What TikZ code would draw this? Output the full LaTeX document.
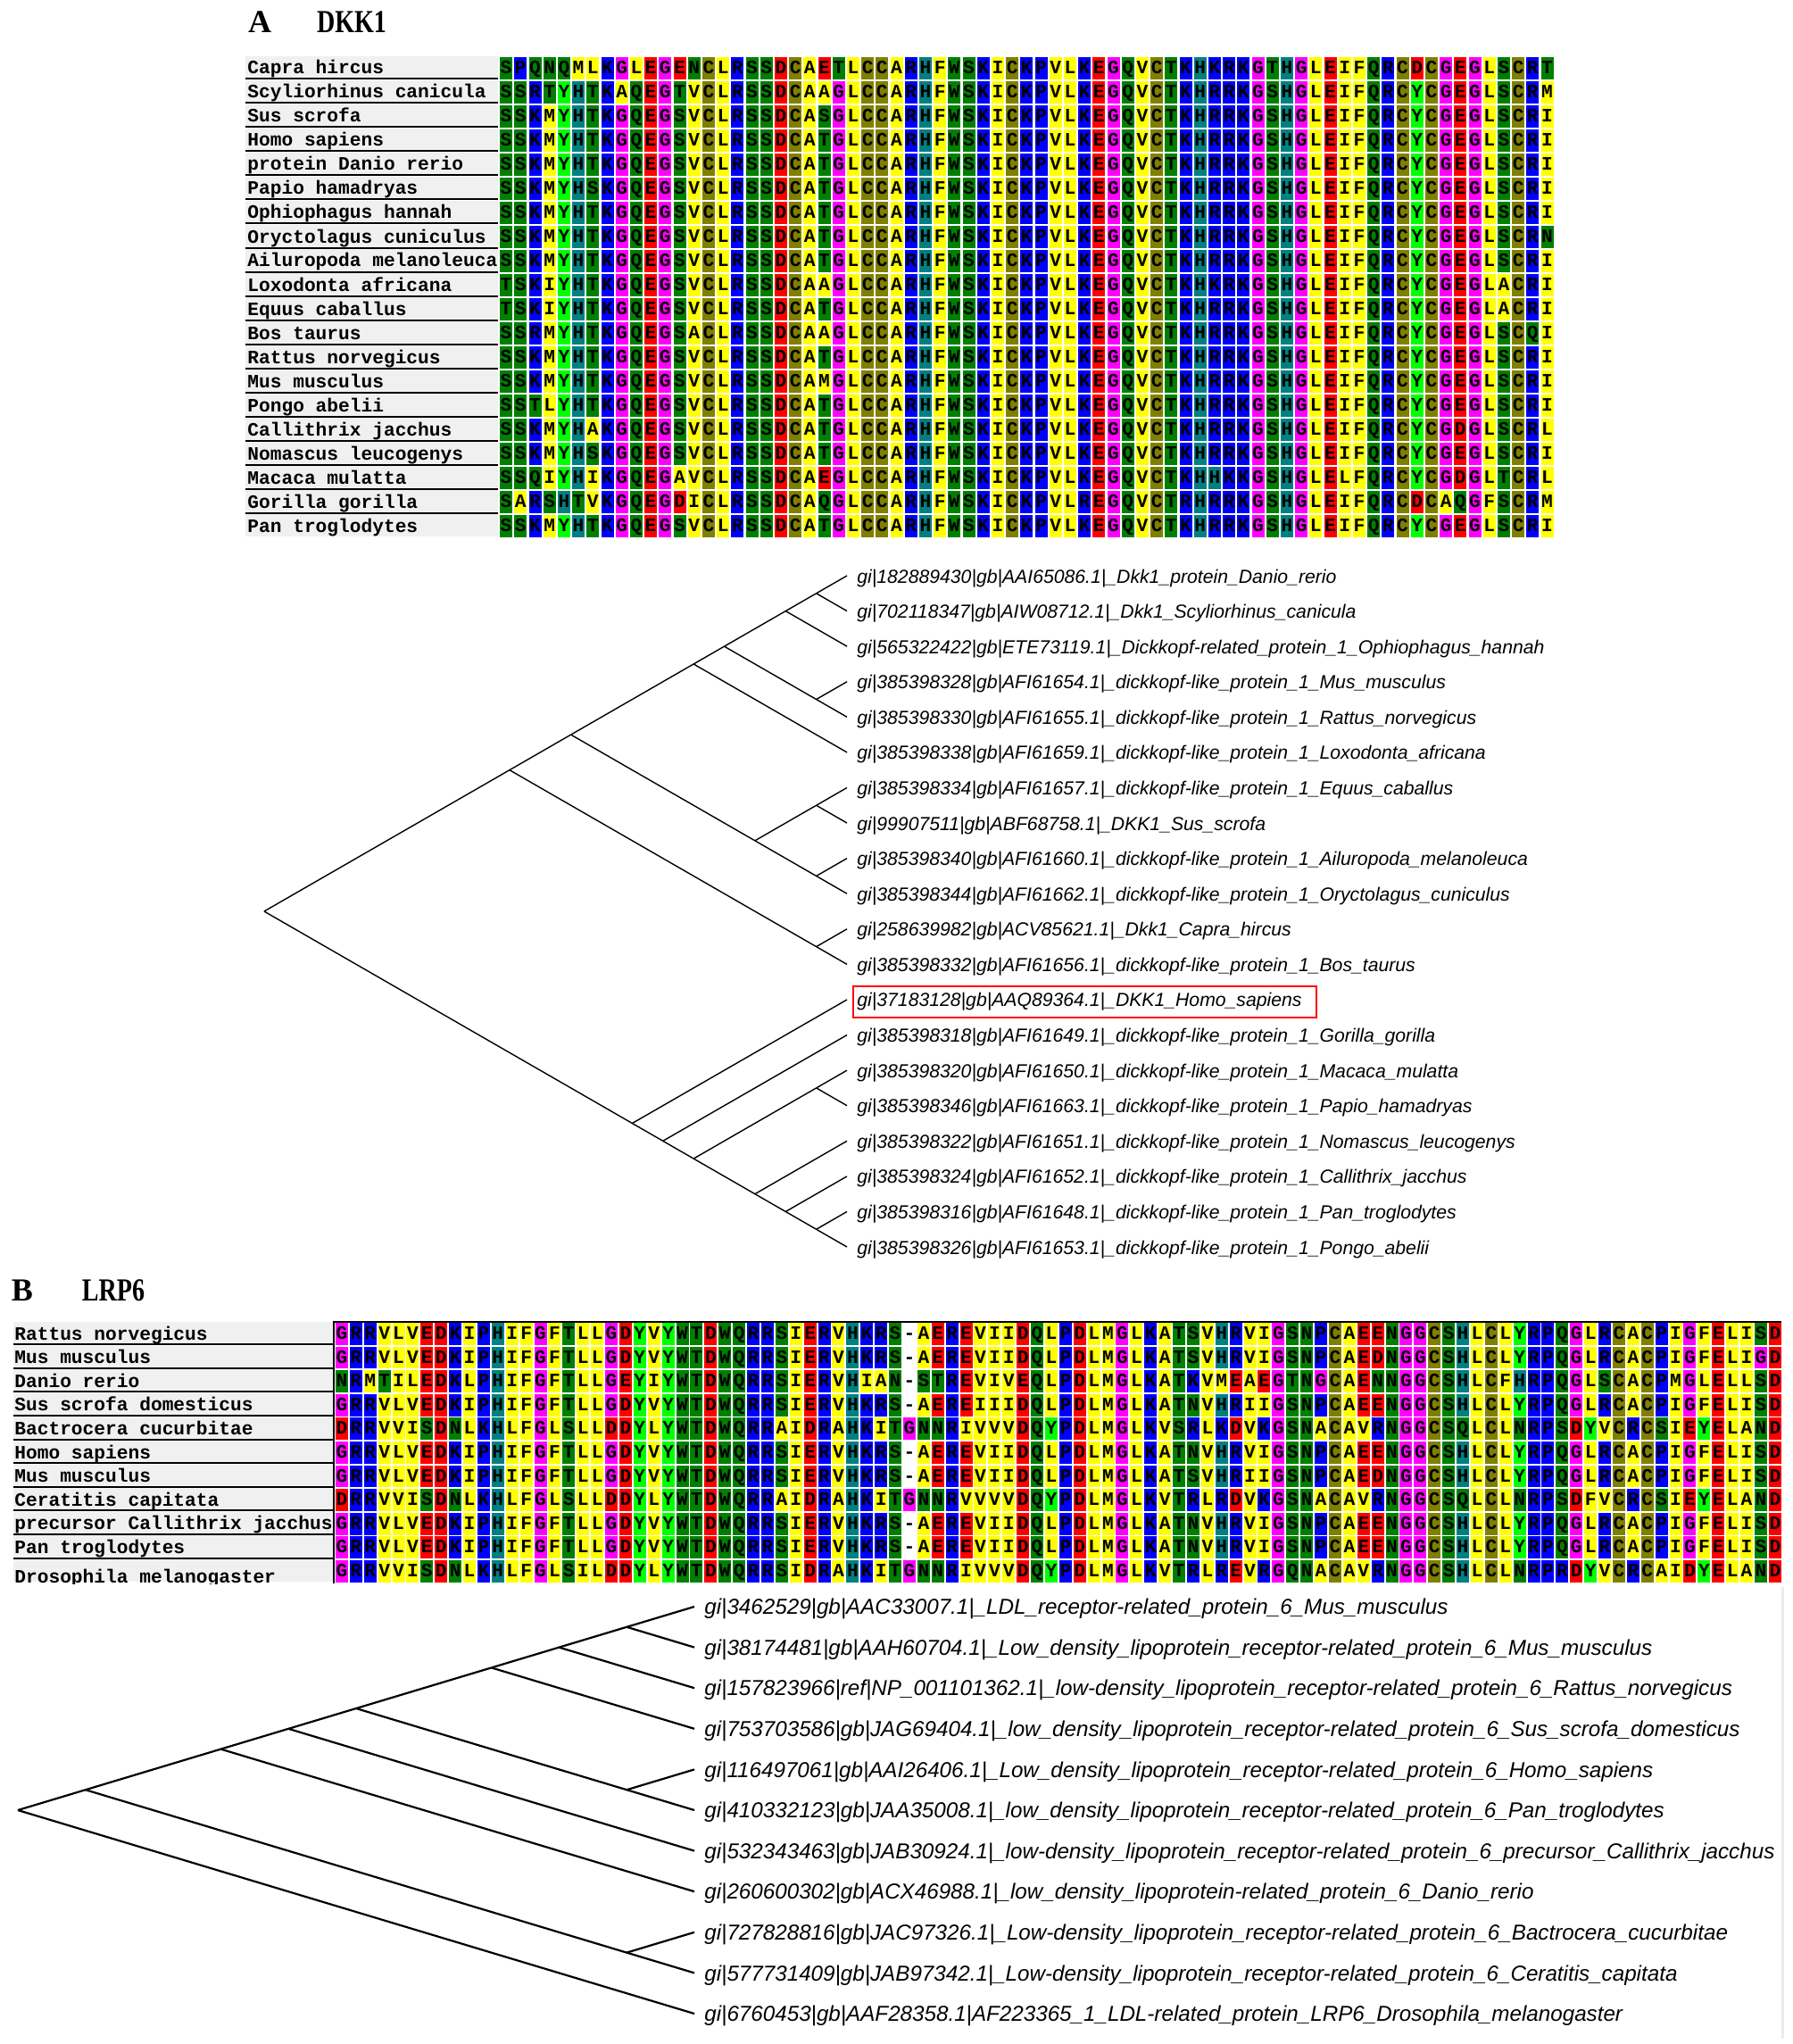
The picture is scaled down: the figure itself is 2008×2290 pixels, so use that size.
\documentclass[tikz,border=0pt]{standalone}
\usepackage{fontspec}
\setmainfont{Liberation Serif}
\setsansfont{Liberation Sans}
\setmonofont{Liberation Mono}
\usetikzlibrary{positioning}

\definecolor{hydro}{RGB}{255,255,0}
\definecolor{polar}{RGB}{0,128,0}
\definecolor{basic}{RGB}{0,0,255}
\definecolor{histi}{RGB}{0,128,128}
\definecolor{aromy}{RGB}{0,255,0}
\definecolor{glyc}{RGB}{255,0,255}
\definecolor{acid}{RGB}{255,0,0}
\definecolor{cyst}{RGB}{128,128,0}
\colorlet{aaA}{hydro}\colorlet{aaV}{hydro}\colorlet{aaL}{hydro}
\colorlet{aaI}{hydro}\colorlet{aaM}{hydro}\colorlet{aaF}{hydro}
\colorlet{aaS}{polar}\colorlet{aaT}{polar}\colorlet{aaN}{polar}
\colorlet{aaQ}{polar}\colorlet{aaW}{polar}
\colorlet{aaK}{basic}\colorlet{aaR}{basic}\colorlet{aaP}{basic}
\colorlet{aaH}{histi}\colorlet{aaY}{aromy}\colorlet{aaG}{glyc}
\colorlet{aaD}{acid}\colorlet{aaE}{acid}\colorlet{aaC}{cyst}

\newcount\alncol
\newcommand\alnrow[3]{\alncol=0 \def\alnpre{#1}\def\alnrowno{#2}\expandafter\alnstep#3\relax}
\def\alnstep#1{\ifx\relax#1\else\alncell{#1}\advance\alncol by 1 \expandafter\alnstep\fi}
\newcommand\alncell[1]{%
  \if-#1\def\alnfill{white}\else\def\alnfill{aa#1}\fi
  \node[res, fill=\alnfill] (\alnpre\alnrowno-\the\alncol)
    at ({\alnx+(\the\alncol+0.5)*\alncw}, {\alny+(\alnrowno-0.5)*\alnrh}) {#1};}
\newcommand\cladeA[3]{\coordinate (#1) at ({949-(#3-#2)*34.37}, {645+((#2+#3)/2-1)*39.58});}
\newcommand\cladeB[3]{\coordinate (#1) at ({778-(#3-#2)*75.8}, {1800+((#2+#3)/2-1)*45.6});}

\begin{document}
\begin{tikzpicture}[x=0.5pt, y=-0.5pt,
  res/.style={inner sep=0pt, minimum width=7pt, minimum height=12.4pt, text height=6.2pt, text depth=0pt, font=\fontsize{10.6}{12}\ttfamily\bfseries},
  spname/.style={anchor=base west, inner sep=0pt, font=\fontsize{10.6}{12}\ttfamily\bfseries},
  namebar/.style={fill=black!6},
  rowline/.style={line width=1pt},
  leafA/.style={inner xsep=1pt, inner ysep=0pt, text height=8pt, text depth=2.4pt, yshift=-1.2pt, font=\fontsize{10.6}{12}\sffamily\itshape},
  leafB/.style={inner xsep=1pt, inner ysep=0pt, text height=9pt, text depth=2.8pt, yshift=-1.2pt, font=\fontsize{12.1}{14}\sffamily\itshape},
  branchA/.style={line width=0.7pt},
  branchB/.style={line width=1.1pt},
  redbox/.style={draw=red, line width=1pt},
  panel/.style={inner sep=0pt, font=\fontsize{18}{18}\selectfont\bfseries}]
\useasboundingbox (0,0) rectangle (2008,2290);

% panel A
\node[panel] (pA) at (291,25) {A};
\node[panel] (gA) at (394,25) {\scalebox{0.78}[1]{DKK1}};
\foreach \r in {1,...,20} \fill[namebar] (275,{63+(\r-1)*27}) rectangle (558,{63+\r*27-2});
\foreach \r in {1,...,19} \draw[rowline] (275,{63+\r*27-1.5}) -- (558,{63+\r*27-1.5});
\begin{scope}
\clip (270,63) rectangle (559,604);
\foreach \n [count=\r] in {Capra hircus, Scyliorhinus canicula, Sus scrofa, Homo sapiens,
  protein Danio rerio, Papio hamadryas, Ophiophagus hannah, Oryctolagus cuniculus,
  Ailuropoda melanoleuca, Loxodonta africana, Equus caballus, Bos taurus,
  Rattus norvegicus, Mus musculus, Pongo abelii, Callithrix jacchus,
  Nomascus leucogenys, Macaca mulatta, Gorilla gorilla, Pan troglodytes}
  \node[spname] (nA\r) at (277,{63+(\r-1)*27+20}) {\n};
\end{scope}
\def\alnx{559}\def\alncw{16.2}\def\alny{63}\def\alnrh{27}
\foreach \s [count=\r] in {
SPQNQMLKGLEGENCLRSSDCAETLCCARHFWSKICKPVLKEGQVCTKHKRKGTHGLEIFQRCDCGEGLSCRT,
SSRTYHTKAQEGTVCLRSSDCAAGLCCARHFWSKICKPVLKEGQVCTKHRRKGSHGLEIFQRCYCGEGLSCRM,
SSKMYHTKGQEGSVCLRSSDCASGLCCARHFWSKICKPVLKEGQVCTKHRRKGSHGLEIFQRCYCGEGLSCRI,
SSKMYHTKGQEGSVCLRSSDCATGLCCARHFWSKICKPVLKEGQVCTKHRRKGSHGLEIFQRCYCGEGLSCRI,
SSKMYHTKGQEGSVCLRSSDCATGLCCARHFWSKICKPVLKEGQVCTKHRRKGSHGLEIFQRCYCGEGLSCRI,
SSKMYHSKGQEGSVCLRSSDCATGLCCARHFWSKICKPVLKEGQVCTKHRRKGSHGLEIFQRCYCGEGLSCRI,
SSKMYHTKGQEGSVCLRSSDCATGLCCARHFWSKICKPVLKEGQVCTKHRRKGSHGLEIFQRCYCGEGLSCRI,
SSKMYHTKGQEGSVCLRSSDCATGLCCARHFWSKICKPVLKEGQVCTKHRRKGSHGLEIFQRCYCGEGLSCRN,
SSKMYHTKGQEGSVCLRSSDCATGLCCARHFWSKICKPVLKEGQVCTKHRRKGSHGLEIFQRCYCGEGLSCRI,
TSKIYHTKGQEGSVCLRSSDCAAGLCCARHFWSKICKPVLKEGQVCTKHKRKGSHGLEIFQRCYCGEGLACRI,
TSKIYHTKGQEGSVCLRSSDCATGLCCARHFWSKICKPVLKEGQVCTKHRRKGSHGLEIFQRCYCGEGLACRI,
SSRMYHTKGQEGSACLRSSDCAAGLCCARHFWSKICKPVLKEGQVCTKHRRKGSHGLEIFQRCYCGEGLSCQI,
SSKMYHTKGQEGSVCLRSSDCATGLCCARHFWSKICKPVLKEGQVCTKHRRKGSHGLEIFQRCYCGEGLSCRI,
SSKMYHTKGQEGSVCLRSSDCAMGLCCARHFWSKICKPVLKEGQVCTKHRRKGSHGLEIFQRCYCGEGLSCRI,
SSTLYHTKGQEGSVCLRSSDCATGLCCARHFWSKICKPVLKEGQVCTKHRRKGSHGLEIFQRCYCGEGLSCRI,
SSKMYHAKGQEGSVCLRSSDCATGLCCARHFWSKICKPVLKEGQVCTKHRRKGSHGLEIFQRCYCGDGLSCRL,
SSKMYHSKGQEGSVCLRSSDCATGLCCARHFWSKICKPVLKEGQVCTKHRRKGSHGLEIFQRCYCGEGLSCRI,
SSQIYHIKGQEGAVCLRSSDCAEGLCCARHFWSKICKPVLKEGQVCTKHHKKGSHGLELFQRCYCGDGLTCRL,
SARSHTVKGQEGDICLRSSDCAQGLCCARHFWSKICKPVLREGQVCTRHRRKGSHGLEIFQRCDCAQGFSCRM,
SSKMYHTKGQEGSVCLRSSDCATGLCCARHFWSKICKPVLKEGQVCTKHRRKGSHGLEIFQRCYCGEGLSCRI}
  {\alnrow{sA}{\r}{\s}}

% tree A
\foreach \g [count=\i] in {
  gi|182889430|gb|AAI65086.1|\_Dkk1\_protein\_Danio\_rerio,
  gi|702118347|gb|AIW08712.1|\_Dkk1\_Scyliorhinus\_canicula,
  gi|565322422|gb|ETE73119.1|\_Dickkopf-related\_protein\_1\_Ophiophagus\_hannah,
  gi|385398328|gb|AFI61654.1|\_dickkopf-like\_protein\_1\_Mus\_musculus,
  gi|385398330|gb|AFI61655.1|\_dickkopf-like\_protein\_1\_Rattus\_norvegicus,
  gi|385398338|gb|AFI61659.1|\_dickkopf-like\_protein\_1\_Loxodonta\_africana,
  gi|385398334|gb|AFI61657.1|\_dickkopf-like\_protein\_1\_Equus\_caballus,
  gi|99907511|gb|ABF68758.1|\_DKK1\_Sus\_scrofa,
  gi|385398340|gb|AFI61660.1|\_dickkopf-like\_protein\_1\_Ailuropoda\_melanoleuca,
  gi|385398344|gb|AFI61662.1|\_dickkopf-like\_protein\_1\_Oryctolagus\_cuniculus,
  gi|258639982|gb|ACV85621.1|\_Dkk1\_Capra\_hircus,
  gi|385398332|gb|AFI61656.1|\_dickkopf-like\_protein\_1\_Bos\_taurus,
  gi|37183128|gb|AAQ89364.1|\_DKK1\_Homo\_sapiens,
  gi|385398318|gb|AFI61649.1|\_dickkopf-like\_protein\_1\_Gorilla\_gorilla,
  gi|385398320|gb|AFI61650.1|\_dickkopf-like\_protein\_1\_Macaca\_mulatta,
  gi|385398346|gb|AFI61663.1|\_dickkopf-like\_protein\_1\_Papio\_hamadryas,
  gi|385398322|gb|AFI61651.1|\_dickkopf-like\_protein\_1\_Nomascus\_leucogenys,
  gi|385398324|gb|AFI61652.1|\_dickkopf-like\_protein\_1\_Callithrix\_jacchus,
  gi|385398316|gb|AFI61648.1|\_dickkopf-like\_protein\_1\_Pan\_troglodytes,
  gi|385398326|gb|AFI61653.1|\_dickkopf-like\_protein\_1\_Pongo\_abelii} {
  \coordinate (tA\i) at (949,{645+(\i-1)*39.58});
  \node[leafA, right=4.5pt of tA\i] (lA\i) {\g};
}
\cladeA{rootA}{1}{20} \cladeA{uA1}{1}{12} \cladeA{uA2}{1}{10} \cladeA{uA3}{1}{6}
\cladeA{uA4}{1}{5} \cladeA{uA5}{1}{3} \cladeA{uA6}{1}{2} \cladeA{uA7}{4}{5}
\cladeA{uA8}{7}{10} \cladeA{uA9}{7}{8} \cladeA{uA10}{9}{10} \cladeA{uA11}{11}{12}
\cladeA{dA1}{13}{20} \cladeA{dA2}{14}{20} \cladeA{dA3}{15}{20} \cladeA{dA4}{15}{16}
\cladeA{dA5}{17}{20} \cladeA{dA6}{18}{20} \cladeA{dA7}{19}{20}
\foreach \p/\c in {rootA/uA1, rootA/dA1, uA1/uA2, uA1/uA11, uA2/uA3, uA2/uA8,
  uA3/uA4, uA3/tA6, uA4/uA5, uA4/uA7, uA5/uA6, uA5/tA3, uA6/tA1, uA6/tA2,
  uA7/tA4, uA7/tA5, uA8/uA9, uA8/uA10, uA9/tA7, uA9/tA8, uA10/tA9, uA10/tA10,
  uA11/tA11, uA11/tA12, dA1/tA13, dA1/dA2, dA2/tA14, dA2/dA3, dA3/dA4, dA3/dA5,
  dA4/tA15, dA4/tA16, dA5/tA17, dA5/dA6, dA6/tA18, dA6/dA7, dA7/tA19, dA7/tA20}
  \draw[branchA] (\p) -- (\c);
\draw[redbox] ([xshift=-1pt, yshift=3.5pt]lA13.north west) rectangle ([xshift=7pt, yshift=-3.5pt]lA13.south east);

% panel B
\node[panel] (pB) at (25,1446) {B};
\node[panel] (gB) at (127,1446) {\scalebox{0.78}[1]{LRP6}};
\foreach \r in {1,...,11} \fill[namebar] (15,{1481+(\r-1)*26.6}) rectangle (373,{1481+\r*26.6-2});
\foreach \r in {1,...,10} \draw[rowline] (15,{1481+\r*26.6-1.5}) -- (373,{1481+\r*26.6-1.5});
\begin{scope}
\clip (10,1481) rectangle (374,1774);
\foreach \n [count=\r] in {Rattus norvegicus, Mus musculus, Danio rerio, Sus scrofa domesticus,
  Bactrocera cucurbitae, Homo sapiens, Mus musculus, Ceratitis capitata,
  precursor Callithrix jacchus, Pan troglodytes}
  \node[spname] (nB\r) at (16,{1481+(\r-1)*26.6+20}) {\n};
\node[spname] (nB11) at (16,{1481+10*26.6+26}) {Drosophila melanogaster};
\end{scope}
\def\alnx{375}\def\alncw{15.9}\def\alny{1481}\def\alnrh{26.6}
\foreach \s [count=\r] in {
GRRVLVEDKIPHIFGFTLLGDYVYWTDWQRRSIERVHKRS-AEREVIIDQLPDLMGLKATSVHRVIGSNPCAEENGGCSHLCLYRPQGLRCACPIGFELISD,
GRRVLVEDKIPHIFGFTLLGDYVYWTDWQRRSIERVHKRS-AEREVIIDQLPDLMGLKATSVHRVIGSNPCAEDNGGCSHLCLYRPQGLRCACPIGFELIGD,
NRMTILEDKLPHIFGFTLLGEYIYWTDWQRRSIERVHIAN-STREVIVEQLPDLMGLKATKVMEAEGTNGCAENNGGCSHLCFHRPQGLSCACPMGLELLSD,
GRRVLVEDKIPHIFGFTLLGDYVYWTDWQRRSIERVHKRS-AEREIIIDQLPDLMGLKATNVHRIIGSNPCAEENGGCSHLCLYRPQGLRCACPIGFELISD,
DRRVVISDNLKHLFGLSLLDDYLYWTDWQRRAIDRAHKITGNNRIVVVDQYPDLMGLKVSRLKDVKGSNACAVRNGGCSQLCLNRPSDYVCRCSIEYELAND,
GRRVLVEDKIPHIFGFTLLGDYVYWTDWQRRSIERVHKRS-AEREVIIDQLPDLMGLKATNVHRVIGSNPCAEENGGCSHLCLYRPQGLRCACPIGFELISD,
GRRVLVEDKIPHIFGFTLLGDYVYWTDWQRRSIERVHKRS-AEREVIIDQLPDLMGLKATSVHRIIGSNPCAEDNGGCSHLCLYRPQGLRCACPIGFELISD,
DRRVVISDNLKHLFGLSLLDDYLYWTDWQRRAIDRAHKITGNNRVVVVDQYPDLMGLKVTRLRDVKGSNACAVRNGGCSQLCLNRPSDFVCRCSIEYELAND,
GRRVLVEDKIPHIFGFTLLGDYVYWTDWQRRSIERVHKRS-AEREVIIDQLPDLMGLKATNVHRVIGSNPCAEENGGCSHLCLYRPQGLRCACPIGFELISD,
GRRVLVEDKIPHIFGFTLLGDYVYWTDWQRRSIERVHKRS-AEREVIIDQLPDLMGLKATNVHRVIGSNPCAEENGGCSHLCLYRPQGLRCACPIGFELISD,
GRRVVISDNLKHLFGLSILDDYLYWTDWQRRSIDRAHKITGNNRIVVVDQYPDLMGLKVTRLREVRGQNACAVRNGGCSHLCLNRPRDYVCRCAIDYELAND}
  {\alnrow{sB}{\r}{\s}}
\draw[line width=1.2pt] (374,1774) -- (374,1481) -- (1996,1481);
\draw[black!8, line width=1.5pt] (1997,1778) -- (1997,2284);

% tree B
\foreach \g [count=\i] in {
  gi|3462529|gb|AAC33007.1|\_LDL\_receptor-related\_protein\_6\_Mus\_musculus,
  gi|38174481|gb|AAH60704.1|\_Low\_density\_lipoprotein\_receptor-related\_protein\_6\_Mus\_musculus,
  gi|157823966|ref|NP\_001101362.1|\_low-density\_lipoprotein\_receptor-related\_protein\_6\_Rattus\_norvegicus,
  gi|753703586|gb|JAG69404.1|\_low\_density\_lipoprotein\_receptor-related\_protein\_6\_Sus\_scrofa\_domesticus,
  gi|116497061|gb|AAI26406.1|\_Low\_density\_lipoprotein\_receptor-related\_protein\_6\_Homo\_sapiens,
  gi|410332123|gb|JAA35008.1|\_low\_density\_lipoprotein\_receptor-related\_protein\_6\_Pan\_troglodytes,
  gi|532343463|gb|JAB30924.1|\_low-density\_lipoprotein\_receptor-related\_protein\_6\_precursor\_Callithrix\_jacchus,
  gi|260600302|gb|ACX46988.1|\_low\_density\_lipoprotein-related\_protein\_6\_Danio\_rerio,
  gi|727828816|gb|JAC97326.1|\_Low-density\_lipoprotein\_receptor-related\_protein\_6\_Bactrocera\_cucurbitae,
  gi|577731409|gb|JAB97342.1|\_Low-density\_lipoprotein\_receptor-related\_protein\_6\_Ceratitis\_capitata,
  gi|6760453|gb|AAF28358.1|AF223365\_1\_LDL-related\_protein\_LRP6\_Drosophila\_melanogaster} {
  \coordinate (tB\i) at (778,{1800+(\i-1)*45.6});
  \node[leafB, right=4.5pt of tB\i] (lB\i) {\g};
}
\cladeB{rootB}{1}{11} \cladeB{uB1}{1}{10} \cladeB{uB2}{1}{8} \cladeB{uB3}{1}{7}
\cladeB{uB4}{1}{6} \cladeB{uB5}{1}{4} \cladeB{uB6}{1}{3} \cladeB{uB7}{1}{2}
\cladeB{uB8}{5}{6} \cladeB{uB9}{9}{10}
\foreach \p/\c in {rootB/uB1, rootB/tB11, uB1/uB2, uB1/uB9, uB2/uB3, uB2/tB8,
  uB3/uB4, uB3/tB7, uB4/uB5, uB4/uB8, uB5/uB6, uB5/tB4, uB6/uB7, uB6/tB3,
  uB7/tB1, uB7/tB2, uB8/tB5, uB8/tB6, uB9/tB9, uB9/tB10}
  \draw[branchB] (\p) -- (\c);
\end{tikzpicture}
\end{document}
